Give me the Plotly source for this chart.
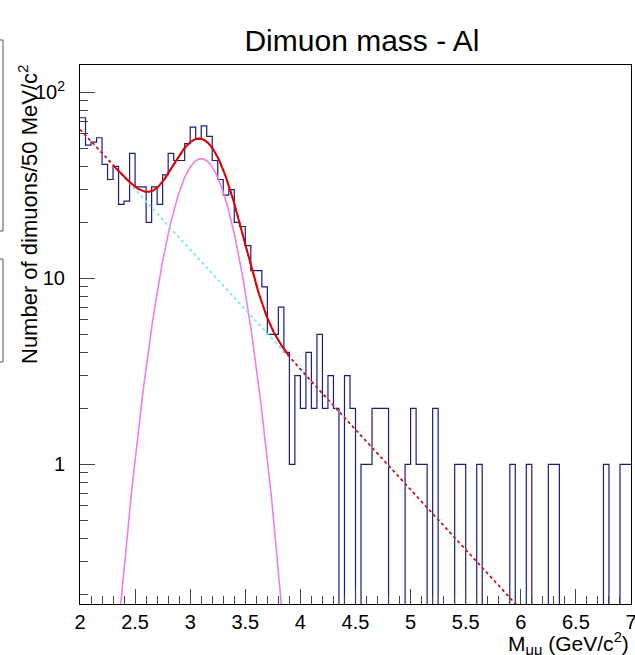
import numpy as np
import plotly.graph_objects as go

# ---- data: dimuon mass histogram, 50 MeV bins from 2 to 7 GeV/c^2 ----
bin_low = 2.0
bin_width = 0.05
counts = [73, 52, 54, 57, 41, 34, 40, 25, 26, 47,
          31, 31, 20, 31, 25, 36, 47, 43, 43, 53,
          65, 56, 66, 58, 43, 34, 28, 30, 20, 19,
          15, 11, 11, 9, 5, 5, 7, 4, 1, 3,
          2, 4, 2, 5, 2, 3, 2, 0, 3, 2,
          0, 1, 1, 2, 2, 2, 0, 0, 0, 1,
          2, 1, 1, 0, 2, 0, 0, 0, 1, 1,
          0, 0, 1, 0, 0, 0, 0, 0, 1, 0,
          0, 1, 0, 0, 0, 1, 1, 0, 0, 0,
          0, 0, 0, 0, 0, 1, 0, 0, 1, 1]

# fit parameters (Gaussian J/psi peak + exponential background)
gaus_amp = 44.0
gaus_mean = 3.10
gaus_sigma = 0.22
bkg_norm = 1233.0
bkg_slope = -1.486
fit_range = [2.3, 3.9]

x_ticks = [2, 2.5, 3, 3.5, 4, 4.5, 5, 5.5, 6, 6.5, 7]
x_ticktext = ["2", "2.5", "3", "3.5", "4", "4.5", "5", "5.5", "6", "6.5", "7"]
y_ticks = [1, 10, 100]
y_ticktext = ["1", "10", "10<sup>2</sup>"]

# ---- build histogram outline ----
n = len(counts)
edges = [bin_low + i * bin_width for i in range(n + 1)]
floor = 1e-3  # empty bins are drawn down to below the axis (as ROOT does)
hist_y = [c if c > 0 else floor for c in counts] + [counts[-1] if counts[-1] > 0 else floor]


def gaus(x):
    return gaus_amp * np.exp(-0.5 * ((x - gaus_mean) / gaus_sigma) ** 2)


def bkg(x):
    return bkg_norm * np.exp(bkg_slope * x)


def total(x):
    return gaus(x) + bkg(x)


xg = np.linspace(2.0, 7.0, 1001)
xfit = np.linspace(fit_range[0], fit_range[1], 400)

font = "Liberation Sans, Arial, Helvetica, sans-serif"
fig = go.Figure()

fig.add_trace(go.Scatter(x=edges, y=hist_y, mode="lines", line_shape="hv",
                         line=dict(color="#1c1c84", width=1.2), showlegend=False,
                         hoverinfo="skip"))
fig.add_trace(go.Scatter(x=xg, y=gaus(xg), mode="lines",
                         line=dict(color="#f07cf0", width=1.6), showlegend=False))
fig.add_trace(go.Scatter(x=xg, y=bkg(xg), mode="lines",
                         line=dict(color="#7fe8f0", width=1.8, dash="dot"), showlegend=False))
fig.add_trace(go.Scatter(x=xg, y=total(xg), mode="lines",
                         line=dict(color="#e00000", width=1.6, dash="dot"), showlegend=False))
fig.add_trace(go.Scatter(x=xfit, y=total(xfit), mode="lines",
                         line=dict(color="#e00000", width=2), showlegend=False))

W, H = 635, 655
ml, mr, mt, mb = 80, 4, 65, 51
pw, ph = W - ml - mr, H - mt - mb


def px(xp):
    return (xp - ml) / pw


def py(yp):
    return (H - mb - yp) / ph


minor_y = [v * d for d in (0.1, 1, 10) for v in range(2, 10)]

fig.update_layout(
    width=W, height=H, autosize=False,
    margin=dict(l=ml, r=mr, t=mt, b=mb),
    paper_bgcolor="white", plot_bgcolor="white",
    font=dict(family=font, color="black"),
    title=dict(text="Dimuon mass - Al", x=362 / W, xref="container", xanchor="center",
               y=1 - 40 / H, yref="container", yanchor="middle",
               font=dict(size=30, family=font, color="black")),
    xaxis=dict(range=[2, 7], showgrid=False, zeroline=False, automargin=False,
               showline=True, mirror=True, linecolor="black", linewidth=1,
               tickmode="array", tickvals=x_ticks, ticktext=x_ticktext,
               ticks="inside", ticklen=15, tickcolor="#444", tickwidth=1,
               tickfont=dict(size=20, family=font, color="black"),
               ticklabelstandoff=0, ticklabeloverflow="allow",
               minor=dict(dtick=0.1, ticks="inside", ticklen=8, tickcolor="#444", tickwidth=1)),
    yaxis=dict(type="log", range=[-0.751, 2.147], showgrid=False, zeroline=False,
               automargin=False,
               showline=True, mirror=True, linecolor="black", linewidth=1,
               tickmode="array", tickvals=y_ticks, ticktext=y_ticktext,
               ticks="inside", ticklen=15, tickcolor="#444", tickwidth=1,
               tickfont=dict(size=20, family=font, color="black"),
               ticklabelstandoff=10, ticklabeloverflow="allow",
               minor=dict(tickmode="array", tickvals=minor_y, ticks="inside",
                          ticklen=8, tickcolor="#444", tickwidth=1)),
)

# axis titles
fig.add_annotation(text="Number of dimuons/50 MeV/c<sup>2</sup>", textangle=-90,
                   xref="paper", yref="paper", x=px(28), y=py(62),
                   xanchor="center", yanchor="top", showarrow=False,
                   font=dict(size=22, family=font, color="black"))
fig.add_annotation(text="M<sub>μμ</sub> (GeV/c<sup>2</sup>)",
                   xref="paper", yref="paper", x=1.0, y=py(643),
                   xanchor="right", yanchor="middle", showarrow=False,
                   font=dict(size=21, family=font, color="black"))

# partial boxes at the left edge (cut-off neighbour elements)
for top, bot in [(40, 231), (259, 362)]:
    fig.add_shape(type="path", xref="paper", yref="paper",
                  path=f"M {px(-2)} {py(top)} L {px(3)} {py(top)} L {px(3)} {py(bot)} L {px(-2)} {py(bot)}",
                  line=dict(color="#555", width=1))

fig.write_html("out.html", config={"displayModeBar": False},
               post_script="document.body.style.margin='0';")
